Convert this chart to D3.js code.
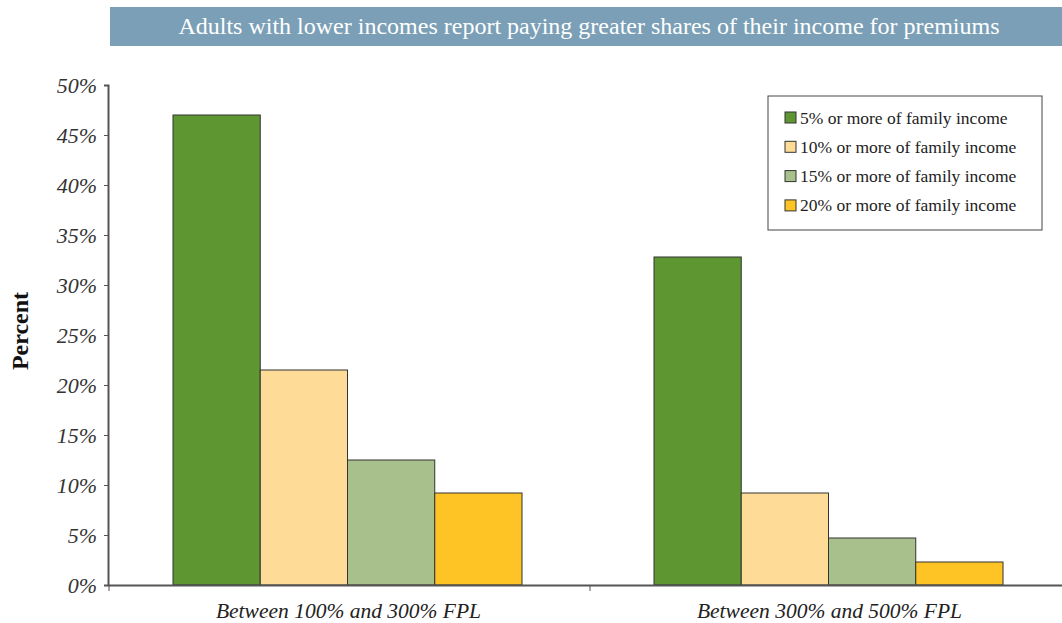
<!DOCTYPE html>
<html>
<head>
<meta charset="utf-8">
<script src="https://cdn.jsdelivr.net/npm/d3@7"></script>
<style>
  body { margin: 0; background: #fff; }
  text { font-family: "Liberation Serif", "DejaVu Serif", serif; }
</style>
</head>
<body>
<div id="chart"></div>
<script>
const categories = ["Between 100% and 300% FPL", "Between 300% and 500% FPL"]
const seriesNames = [
    "5% or more of family income",
    "10% or more of family income",
    "15% or more of family income",
    "20% or more of family income"
]
const seriesValues = [
    [47.0, 32.8],
    [21.5, 9.2],
    [12.5, 4.7],
    [9.2, 2.3]
]
const colors = ["#5e9732", "#fedc98", "#a8c18c", "#fec324"]
const yTicks = [0, 5, 10, 15, 20, 25, 30, 35, 40, 45, 50]
const title = "Adults with lower incomes report paying greater shares of their income for premiums"

const W = 1062, H = 623
const margin = {top: 85, right: -8, bottom: 38, left: 108}
const width = W - margin.left - margin.right
const height = H - margin.top - margin.bottom

const svg = d3.select("#chart").append("svg")
    .attr("width", W)
    .attr("height", H)

// title bar
svg.append("rect")
    .attr("x", 110).attr("y", 7)
    .attr("width", W - 110).attr("height", 39)
    .attr("fill", "#7b9fb6")
svg.append("text")
    .attr("x", 589).attr("y", 34)
    .attr("text-anchor", "middle")
    .attr("fill", "#fff")
    .style("font-size", "24px")
    .text(title)

const g = svg.append("g")
    .attr("transform", `translate(${margin.left},${margin.top})`)

const x0 = d3.scaleBand()
    .domain(categories)
    .range([0, width])
    .paddingInner(0)
    .paddingOuter(0)

const x1 = d3.scaleBand()
    .domain(d3.range(seriesNames.length))
    .range([65, x0.bandwidth() - 67])

const y = d3.scaleLinear()
    .domain([0, 50])
    .range([height, 0])

// bars
const data = []
categories.forEach((c, ci) => {
    seriesNames.forEach((s, si) => {
        data.push({cat: c, si: si, value: seriesValues[si][ci]})
    })
})

g.selectAll("rect.bar")
    .data(data)
    .join("rect")
        .attr("class", "bar")
        .attr("x", d => x0(d.cat) + x1(d.si))
        .attr("y", d => y(d.value))
        .attr("width", x1.bandwidth())
        .attr("height", d => height - y(d.value))
        .attr("fill", d => colors[d.si])
        .attr("stroke", "#333")
        .attr("stroke-width", 1)

// y axis
const yAxis = d3.axisLeft(y)
    .tickValues(yTicks)
    .tickSize(4)
    .tickFormat(d => d + "%")

const yGroup = g.append("g").call(yAxis)
yGroup.select(".domain").attr("stroke", "#555").attr("stroke-width", 2)
yGroup.selectAll(".tick line").attr("stroke", "#555")
yGroup.selectAll(".tick text")
    .attr("x", -11)
    .attr("fill", "#333")
    .style("font-size", "22px")
    .style("font-style", "italic")
    .style("font-family", "'Liberation Serif', serif")

// x axis
const xAxis = d3.axisBottom(x0).tickSize(0).tickSizeOuter(0)
const xGroup = g.append("g")
    .attr("transform", `translate(0,${height})`)
    .call(xAxis)
xGroup.select(".domain").attr("stroke", "#555").attr("stroke-width", 2)
xGroup.selectAll(".tick text")
    .attr("y", 18)
    .attr("fill", "#222")
    .style("font-size", "21.5px")
    .style("font-style", "italic")
    .style("font-family", "'Liberation Serif', serif")

// boundary ticks between categories
g.selectAll("line.bound")
    .data(categories)
    .join("line")
        .attr("class", "bound")
        .attr("x1", d => x0(d) + 1).attr("x2", d => x0(d) + 1)
        .attr("y1", height).attr("y2", height + 6)
        .attr("stroke", "#555")

// y label
svg.append("text")
    .attr("transform", "translate(28,331) rotate(-90)")
    .attr("text-anchor", "middle")
    .attr("fill", "#111")
    .style("font-size", "24px")
    .style("font-weight", "bold")
    .text("Percent")

// legend
const legend = svg.append("g").attr("transform", "translate(768,96)")
legend.append("rect")
    .attr("width", 274).attr("height", 134)
    .attr("fill", "#fff")
    .attr("stroke", "#444")

const items = legend.selectAll("g.item")
    .data(seriesNames)
    .join("g")
        .attr("class", "item")
        .attr("transform", (d, i) => `translate(17,${22 + i * 29.3})`)

items.append("rect")
    .attr("x", 0).attr("y", -6)
    .attr("width", 11).attr("height", 11)
    .attr("fill", (d, i) => colors[i])
    .attr("stroke", "#333")

items.append("text")
    .attr("x", 15).attr("y", 5.5)
    .attr("fill", "#222")
    .style("font-size", "17.5px")
    .text(d => d)
</script>
</body>
</html>
